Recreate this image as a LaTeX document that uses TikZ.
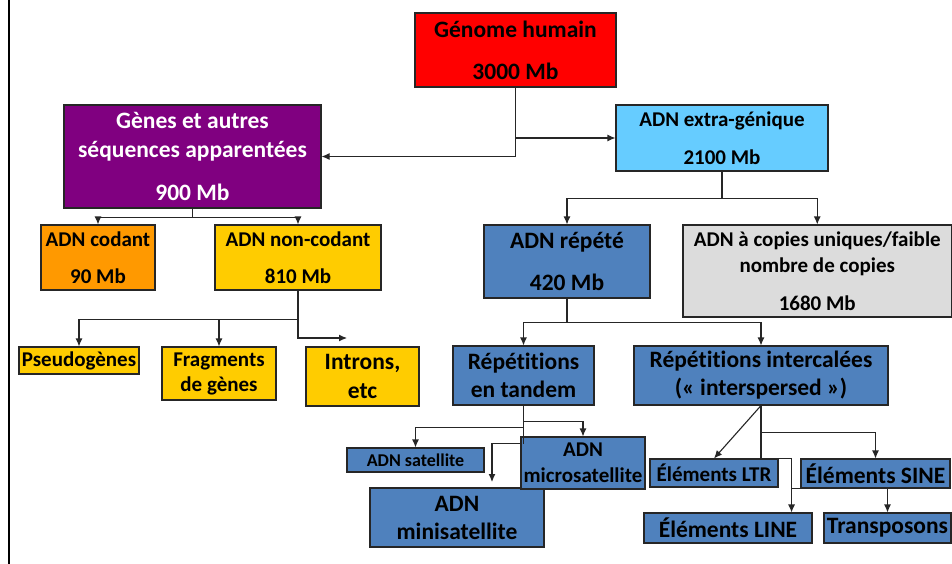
\documentclass[tikz,border=0pt]{standalone}
\usepackage{fontspec}
\setmainfont{Carlito}[Ligatures={NoCommon,NoContextual}]
\usetikzlibrary{arrows.meta}
\definecolor{cRed}{HTML}{FF0000}
\definecolor{cPurple}{HTML}{800080}
\definecolor{cSky}{HTML}{66CCFF}
\definecolor{cOrange}{HTML}{FF9900}
\definecolor{cYellow}{HTML}{FFCC00}
\definecolor{cBlue}{HTML}{4F81BD}
\definecolor{cGray}{HTML}{DCDCDC}
\definecolor{cLine}{HTML}{262626}
\newcommand{\txtS}{\fontsize{21}{25}\selectfont\bfseries}
\newcommand{\txtL}{\fontsize{23.5}{28}\selectfont\bfseries}
\newcommand{\txtXS}{\fontsize{18}{22}\selectfont\bfseries}
\tikzset{
  box/.style={draw=cLine, line width=1.1pt, inner sep=0pt, align=center, text=black},
  bS/.style={box, font=\txtS},
  bL/.style={box, font=\txtL},
  arr/.style={draw=cLine, line width=1.1pt, -{Latex[length=8pt,width=7pt]}},
  ln/.style={draw=cLine, line width=1.1pt},
}
\begin{document}
\begin{tikzpicture}[x=1pt,y=-1pt]
\useasboundingbox (0,0) rectangle (952,563);
\fill[white] (0,0) rectangle (952,563);
\draw[line width=2pt,black] (9,-2) -- (9,565);

% level 0
\node[bL, fill=cRed, minimum width=201pt, minimum height=74pt] (genome) at (515.5,50) {Génome humain\\[14pt]3000 Mb};

% level 1
\node[bL, fill=cPurple, text=white, minimum width=257pt, minimum height=103pt] (genes) at (192.5,156.5) {Gènes et autres\\[1pt]séquences apparentées\\[15pt]900 Mb};
\node[bS, fill=cSky, minimum width=212pt, minimum height=66pt] (extra) at (722,138) {ADN extra-génique\\[13pt]2100 Mb};

% level 2
\node[bS, fill=cOrange, minimum width=114pt, minimum height=65pt] (codant) at (98,257.5) {ADN codant\\[12pt]90 Mb};
\node[bS, fill=cYellow, minimum width=166pt, minimum height=65pt] (noncod) at (298,257.5) {ADN non-codant\\[12pt]810 Mb};
\node[bL, fill=cBlue, minimum width=166pt, minimum height=73pt] (repete) at (567,261.5) {ADN répété\\[14pt]420 Mb};
\node[bS, fill=cGray, minimum width=268.5pt, minimum height=92pt] (copies) at (817.25,271) {ADN à copies uniques/faible\\[1pt]nombre de copies\\[13pt]1680 Mb};

% level 3 left
\node[bS, fill=cYellow, minimum width=120pt, minimum height=27pt] (pseudo) at (79,360.5) {Pseudogènes};
\node[bS, fill=cYellow, minimum width=114pt, minimum height=53pt] (frag) at (219,373.5) {Fragments\\de gènes};
\node[bL, fill=cYellow, minimum width=113pt, minimum height=59pt] (introns) at (362.5,376.5) {Introns,\\[1pt]etc};

% level 3 right
\node[bL, fill=cBlue, minimum width=141pt, minimum height=59pt] (tandem) at (523.5,375.5) {Répétitions\\en tandem};
\node[bL, fill=cBlue, minimum width=254pt, minimum height=59pt] (inter) at (761,375.5) {Répétitions intercalées\\(« interspersed »)};

% level 4
\node[box, font=\txtXS, fill=cBlue, minimum width=137pt, minimum height=24pt] (satel) at (415.5,460) {ADN satellite};
\node[bL, fill=cBlue, minimum width=174pt, minimum height=59pt] (mini) at (457,517.5) {ADN\\minisatellite};
\node[bS, fill=cBlue, minimum width=128pt, minimum height=28pt] (ltr) at (714,473) {Éléments LTR};
\node[bL, fill=cBlue, minimum width=149pt, minimum height=29pt] (sine) at (875.5,473.5) {Éléments SINE};
\node[bL, fill=cBlue, minimum width=168pt, minimum height=30pt] (line) at (728,528) {Éléments LINE};
\node[bL, fill=cBlue, minimum width=127pt, minimum height=30pt] (trans) at (887.5,528) {Transposons};

% connectors
\draw[arr] (genome.south) |- (genes.east);
\draw[arr] (genome.south |- extra.west) -- (extra.west);

\draw[arr] (genes.south) -- ++(0,9) -| (codant.north);
\draw[arr] (genes.south) -- ++(0,9) -| (noncod.north);

\coordinate (introtip) at (347,338);
\draw[arr] (noncod.south) -- ++(0,29) -| (pseudo.north);
\draw[arr] (noncod.south) -- ++(0,29) -| (frag.north);
\draw[arr] (noncod.south) |- (introtip);

\draw[arr] (extra.south) -- ++(0,27) -| (repete.north);
\draw[arr] (extra.south) -- ++(0,27) -| (copies.north);

\draw[arr] (repete.south) -- ++(0,24) -| (tandem.north);
\draw[arr] (repete.south) -- ++(0,24) -| (inter.north);

\coordinate (minitip) at (492,482);
\draw[arr] (tandem.south) -- ++(0,38) -| (minitip);
\draw[arr] (tandem.south) ++(0,22) -| (satel.north);

\draw[arr] (inter.south) -- (ltr.north);
\draw[arr] (inter.south) ++(0,27) -| (sine.north);
\draw[arr] (inter.south) -- ++(0,53) -| ([xshift=-21pt]line.north east);
\draw[arr] ([xshift=-8pt]sine.south west) -| (trans.north);

% microsatellite box, then the line over it
\node[bS, fill=cBlue, minimum width=124pt, minimum height=52pt] (micro) at (583,463) {ADN\\[1pt]microsatellite};
\draw[arr] (tandem.south) ++(0,16) -| (micro.north);
\draw[ln] (tandem.south) -- ++(0,38);
\end{tikzpicture}
\end{document}
